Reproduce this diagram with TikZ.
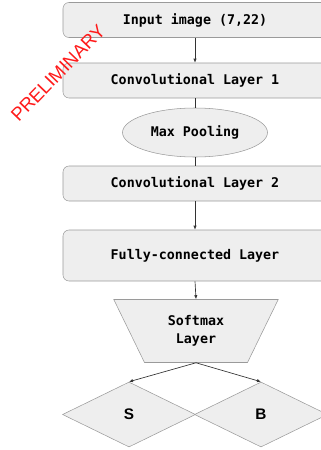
\documentclass[tikz,border=0pt]{standalone}
\usepackage{fontspec}
\setmainfont{Liberation Sans}
\setmonofont{DejaVu Sans Mono}
\usetikzlibrary{arrows.meta,positioning,shapes.geometric}
\definecolor{boxfill}{HTML}{EEEEEE}
\definecolor{boxdraw}{HTML}{9A9A9A}
\definecolor{linkgray}{HTML}{333333}
\definecolor{stampred}{HTML}{FF1A1A}
\tikzset{
  layerbox/.style={draw=boxdraw,fill=boxfill,rounded corners=4.5pt,align=center,
    minimum width=198pt,minimum height=26.25pt,font=\ttfamily\bfseries},
  poolellipse/.style={ellipse,draw=boxdraw,fill=boxfill,align=center,
    minimum width=108.75pt,minimum height=36.75pt,font=\ttfamily\bfseries},
  softmaxbox/.style={trapezium,shape border rotate=180,trapezium angle=64,
    draw=boxdraw,fill=boxfill,align=center,minimum width=117pt,minimum height=47.25pt,
    font=\fontsize{10}{13.5}\selectfont\ttfamily\bfseries},
  classdiamond/.style={diamond,draw=boxdraw,fill=boxfill,inner sep=0pt,
    minimum width=99.75pt,minimum height=48.75pt,font=\fontsize{11.5}{13}\selectfont\bfseries},
  flowarrow/.style={-{Latex[length=3pt,width=2.5pt]},draw=linkgray,line width=0.5pt},
  flowline/.style={draw=linkgray,line width=0.5pt},
  stamplabel/.style={text=stampred,font=\fontsize{14}{16}\selectfont,inner sep=0pt}
}

\begin{document}
\begin{tikzpicture}[x=0.75pt,y=-0.75pt]
  \useasboundingbox (0,0) rectangle (321,450);
  \clip (0,0) rectangle (321,450);
  % layers of the network
  \node[layerbox] (input) at (195,20) {Input image (7,22)};
  \node[layerbox] (conv1) at (195,80.5) {Convolutional Layer 1};
  \node[poolellipse] (pool) at (195,132.5) {Max Pooling};
  \node[layerbox] (conv2) at (195,183.5) {Convolutional Layer 2};
  \node[layerbox,minimum height=38.25pt] (dense) at (195,255.5) {Fully-connected Layer};
  \node[softmaxbox] (softmax) at (196,331) {Softmax\\Layer};
  \node[classdiamond] (classS) at (129,414.5) {S};
  \node[classdiamond] (classB) at (261,414.5) {B};
  % connectors
  \draw[flowarrow] (input) -- (conv1);
  \draw[flowline] (conv1) -- (pool);
  \draw[flowline] (pool) -- (conv2);
  \draw[flowarrow] (conv2) -- (dense);
  \draw[flowarrow] (dense.south) -- (softmax.north);
  \draw[flowarrow] (softmax.south) -- (classS.north);
  \draw[flowarrow] (softmax.south) -- (classB.north);
  \node[stamplabel,rotate=46] (stamp) at (58,73) {PRELIMINARY};
\end{tikzpicture}
\end{document}
